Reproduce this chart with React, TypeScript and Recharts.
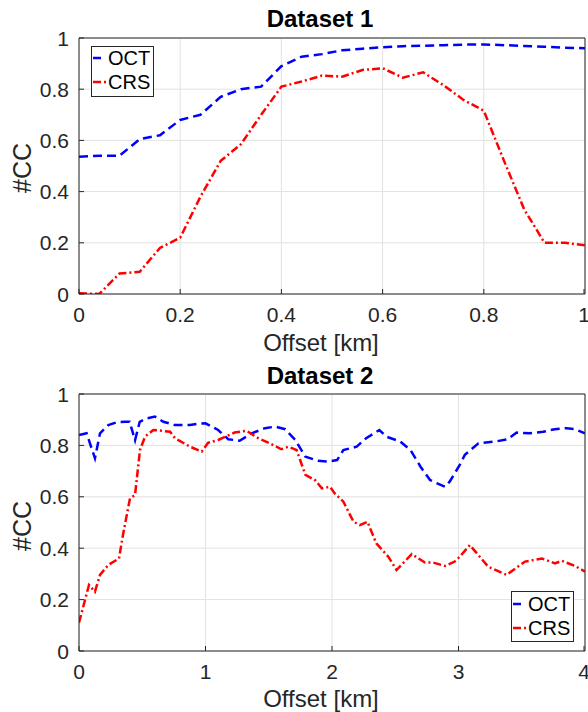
import React from 'react';
import { LineChart, Line, XAxis, YAxis, CartesianGrid, Legend } from 'recharts';

const FONT = '"Liberation Sans", Arial, Helvetica, sans-serif';
const INK = '#262626';
const BLUE = '#0000ff';
const RED = '#ff0000';

// Dataset 1 (shared offsets, km)
const offset1 = [0, 0.04, 0.08, 0.12, 0.16, 0.2, 0.24, 0.28, 0.32, 0.36, 0.4, 0.44, 0.48, 0.52, 0.56, 0.6, 0.64, 0.68, 0.72, 0.76, 0.8, 0.84, 0.88, 0.92, 0.96, 1];
const oct1 = [0.536, 0.54, 0.54, 0.605, 0.62, 0.68, 0.7, 0.77, 0.8, 0.81, 0.89, 0.927, 0.937, 0.952, 0.958, 0.964, 0.968, 0.97, 0.972, 0.974, 0.975, 0.972, 0.969, 0.966, 0.962, 0.96];
const crs1 = [0.003, 0, 0.08, 0.087, 0.18, 0.22, 0.38, 0.52, 0.585, 0.7, 0.81, 0.83, 0.853, 0.849, 0.875, 0.882, 0.845, 0.866, 0.816, 0.758, 0.716, 0.52, 0.33, 0.2, 0.2, 0.19];

// Dataset 2
const oct2X = [0, 0.06, 0.126, 0.166, 0.232, 0.3, 0.364, 0.4, 0.443, 0.48, 0.535, 0.6, 0.667, 0.759, 0.877, 0.95, 1, 1.1, 1.18, 1.27, 1.365, 1.47, 1.55, 1.63, 1.71, 1.79, 1.89, 1.97, 2.04, 2.09, 2.195, 2.27, 2.374, 2.43, 2.54, 2.62, 2.7, 2.775, 2.893, 2.93, 3.01, 3.05, 3.157, 3.29, 3.39, 3.46, 3.565, 3.67, 3.76, 3.855, 3.92, 4];
const oct2Y = [0.84, 0.847, 0.75, 0.847, 0.879, 0.89, 0.892, 0.892, 0.82, 0.892, 0.905, 0.912, 0.892, 0.879, 0.879, 0.885, 0.886, 0.86, 0.824, 0.818, 0.847, 0.867, 0.873, 0.863, 0.821, 0.756, 0.74, 0.737, 0.743, 0.782, 0.795, 0.828, 0.86, 0.834, 0.815, 0.782, 0.717, 0.665, 0.639, 0.659, 0.724, 0.763, 0.808, 0.815, 0.824, 0.85, 0.847, 0.853, 0.863, 0.867, 0.863, 0.847];
const crs2X = [0, 0.079, 0.126, 0.166, 0.232, 0.316, 0.35, 0.403, 0.443, 0.482, 0.522, 0.587, 0.654, 0.72, 0.759, 0.877, 0.97, 1.02, 1.1, 1.23, 1.325, 1.417, 1.52, 1.6, 1.655, 1.72, 1.79, 1.866, 1.92, 1.984, 2.02, 2.09, 2.17, 2.22, 2.28, 2.35, 2.445, 2.51, 2.63, 2.735, 2.8, 2.893, 2.97, 3.01, 3.09, 3.235, 3.38, 3.526, 3.66, 3.763, 3.816, 3.92, 4];
const crs2Y = [0.11, 0.257, 0.231, 0.296, 0.335, 0.36, 0.458, 0.594, 0.607, 0.782, 0.834, 0.86, 0.857, 0.853, 0.828, 0.795, 0.776, 0.81, 0.821, 0.85, 0.857, 0.828, 0.805, 0.785, 0.795, 0.782, 0.685, 0.665, 0.633, 0.639, 0.614, 0.581, 0.503, 0.49, 0.503, 0.419, 0.367, 0.315, 0.377, 0.344, 0.344, 0.331, 0.348, 0.367, 0.412, 0.328, 0.296, 0.348, 0.36, 0.341, 0.351, 0.331, 0.309];

const seriesNames = ['OCT', 'CRS'];
const yTicks = [0, 0.2, 0.4, 0.6, 0.8, 1];
const xTicks1 = [0, 0.2, 0.4, 0.6, 0.8, 1];
const xTicks2 = [0, 1, 2, 3, 4];

const zip = (xs: number[], ys: number[]) => xs.map((x, i) => ({ x, y: ys[i] }));

const dashes: Record<string, string> = { OCT: '9 5', CRS: '8 3 2 3' };

const BottomTick = ({ x, y, payload }: any) => (
  <g>
    <line x1={x} x2={x} y1={y} y2={y - 5} stroke={INK} />
    <text x={x} y={y + 27.5} textAnchor="middle" fill={INK} fontSize={21} fontFamily={FONT}>{payload.value}</text>
  </g>
);
const TopTick = ({ x, y }: any) => <line x1={x} x2={x} y1={y} y2={y + 5} stroke={INK} />;
const LeftTick = ({ x, y, payload }: any) => (
  <g>
    <line x1={x} x2={x + 5} y1={y} y2={y} stroke={INK} />
    <text x={x - 10} y={y + 7.5} textAnchor="end" fill={INK} fontSize={21} fontFamily={FONT}>{payload.value}</text>
  </g>
);
const RightTick = ({ x, y }: any) => <line x1={x} x2={x - 5} y1={y} y2={y} stroke={INK} />;

const LegendBox = ({ payload, rows }: any) => {
  const items = [...(payload || [])].sort((a: any, b: any) => seriesNames.indexOf(a.value) - seriesNames.indexOf(b.value));
  return (
    <svg width={63} height={51} style={{ display: 'block' }}>
      <rect x={0.5} y={0.5} width={62} height={50} fill="#fff" stroke={INK} />
      {items.map((p: any, i: number) => (
        <g key={p.value}>
          <line x1={2} x2={p.value === 'OCT' ? 10 : 16} y1={rows[i]} y2={rows[i]} stroke={p.color} strokeWidth={2.5} strokeDasharray={dashes[p.value]} />
          <text x={17} y={rows[i] + 7} fontSize={20} fontFamily={FONT} fill="#000">{p.value}</text>
        </g>
      ))}
    </svg>
  );
};

const Txt = ({ x, y, size, bold, rotate, children }: any) => (
  <div
    style={{
      position: 'absolute', left: x, top: y, fontFamily: FONT, fontSize: size, lineHeight: 1,
      fontWeight: bold ? 'bold' : 'normal', color: bold ? '#000' : INK, whiteSpace: 'nowrap',
      transform: `translate(-50%, -50%)${rotate ? ' rotate(-90deg)' : ''}`,
    }}
  >
    {children}
  </div>
);

function Panel({ series, xDomain, xTicks, bottom, legendPos, rows }: any) {
  return (
    <LineChart width={588} height={356} margin={{ top: 8, right: 0, bottom, left: 0 }}>
      <CartesianGrid stroke="#e2e2e2" />
      <XAxis dataKey="x" type="number" domain={xDomain} ticks={xTicks} height={30} tickSize={0} tickMargin={0} tickLine={false} axisLine={{ stroke: INK }} tick={(p: any) => <BottomTick {...p} />} allowDataOverflow />
      <XAxis xAxisId="t" orientation="top" dataKey="x" type="number" domain={xDomain} ticks={xTicks} height={30} tickSize={0} tickMargin={0} tickLine={false} axisLine={{ stroke: INK }} tick={(p: any) => <TopTick {...p} />} />
      <YAxis type="number" domain={[0, 1]} ticks={yTicks} width={79} tickSize={0} tickMargin={0} tickLine={false} axisLine={{ stroke: INK }} tick={(p: any) => <LeftTick {...p} />} allowDataOverflow />
      <YAxis yAxisId="r" orientation="right" type="number" domain={[0, 1]} ticks={yTicks} width={3} tickSize={0} tickMargin={0} tickLine={false} axisLine={{ stroke: INK }} tick={(p: any) => <RightTick {...p} />} />
      {series.map((s: any) => (
        <Line key={s.name} name={s.name} data={s.data} dataKey="y" type="linear" stroke={s.color} strokeWidth={2.5} strokeDasharray={dashes[s.name]} dot={false} activeDot={false} isAnimationActive={false} />
      ))}
      <Legend layout="vertical" align="center" verticalAlign="middle" wrapperStyle={{ left: legendPos[0], top: legendPos[1], width: 63, height: 51 }} content={(p: any) => <LegendBox payload={p.payload} rows={rows} />} />
    </LineChart>
  );
}

export default function App() {
  const s1 = [
    { name: 'OCT', color: BLUE, data: zip(offset1, oct1) },
    { name: 'CRS', color: RED, data: zip(offset1, crs1) },
  ];
  const s2 = [
    { name: 'OCT', color: BLUE, data: zip(oct2X, oct2Y) },
    { name: 'CRS', color: RED, data: zip(crs2X, crs2Y) },
  ];
  return (
    <div style={{ position: 'absolute', left: 0, top: 0, width: 588, height: 712, background: '#fff' }}>
      <div style={{ position: 'absolute', left: 0, top: 0 }}>
        <Panel series={s1} xDomain={[0, 1]} xTicks={xTicks1} bottom={32} legendPos={[91, 46]} rows={[12, 36]} />
      </div>
      <div style={{ position: 'absolute', left: 0, top: 356 }}>
        <Panel series={s2} xDomain={[0, 4]} xTicks={xTicks2} bottom={31} legendPos={[511, 235]} rows={[13, 37]} />
      </div>
      <Txt x={320} y={19} size={24} bold>Dataset 1</Txt>
      <Txt x={320} y={376} size={24} bold>Dataset 2</Txt>
      <Txt x={321} y={343} size={24}>Offset [km]</Txt>
      <Txt x={321} y={699} size={24}>Offset [km]</Txt>
      <Txt x={22} y={168} size={25} rotate>#CC</Txt>
      <Txt x={22} y={526} size={25} rotate>#CC</Txt>
    </div>
  );
}
